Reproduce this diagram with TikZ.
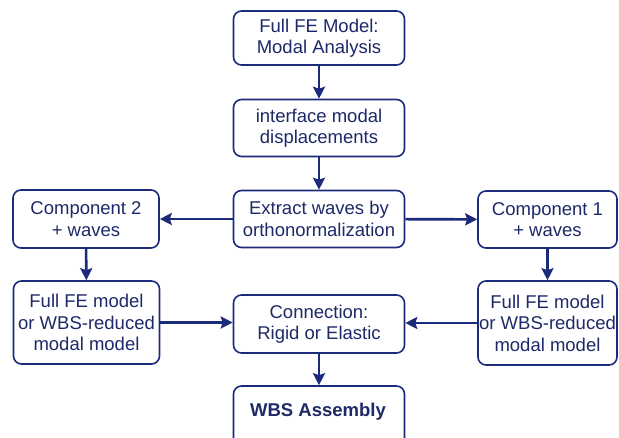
\documentclass[tikz,border=0pt]{standalone}
\usepackage{fontspec}
\setmainfont{Liberation Sans}
\usetikzlibrary{arrows.meta}
\definecolor{navy}{HTML}{1C2A7C}
\definecolor{navytext}{HTML}{1E2968}
\tikzset{
  stepbox/.style={draw=navy, line width=1.6pt, rounded corners=8pt, fill=white,
    align=center, text=navytext, font=\fontsize{18.5}{21.5}\selectfont,
    inner sep=0pt, minimum width=#1},
  flow/.style={draw=navy, line width=2.6pt,
    -{Stealth[length=12pt, width=12pt, inset=2pt]}}
}
\begin{document}
\begin{tikzpicture}[x=1pt, y=-1pt]
  \useasboundingbox (0,0) rectangle (619,437);
  \clip (0,0) rectangle (619,437);

  % central column
  \node[stepbox=171pt, minimum height=54pt] (fe) at (319,38) {Full FE Model:\\Modal Analysis};
  \node[stepbox=171pt, minimum height=57pt] (disp) at (319,128) {interface modal\\displacements};
  \node[stepbox=171pt, minimum height=57pt] (ext) at (319,219) {Extract waves by\\orthonormalization};
  \node[stepbox=171pt, minimum height=58pt] (conn) at (319,324) {Connection:\\Rigid or Elastic};
  \node[stepbox=171pt, minimum height=80pt] (wbs) at (319,426) {};
  \node[text=navytext, font=\fontsize{18.5}{21}\selectfont\bfseries] (wbslabel) at (318,412) {WBS Assembly};

  % left branch
  \node[stepbox=146pt, minimum height=58pt] (c2) at (86,219) {Component 2\\+ waves};
  \node[stepbox=146pt, minimum height=83pt] (m2) at (86.5,322.5) {Full FE model\\or WBS-reduced\\modal model};

  % right branch
  \node[stepbox=139pt, minimum height=57pt] (c1) at (547.5,219.5) {Component 1\\+ waves};
  \node[stepbox=139pt, minimum height=84pt] (m1) at (547.5,323) {Full FE model\\or WBS-reduced\\modal model};

  % connectors
  \draw[flow] (fe) -- (disp);
  \draw[flow] (disp) -- (ext);
  \draw[flow] (ext) -- (c2);
  \draw[flow] (ext) -- (c1);
  \draw[flow] (c2) -- (m2);
  \draw[flow] (c1) -- (m1);
  \draw[flow] (m2.east) -- (m2.east -| conn.west);
  \draw[flow] (m1.west) -- (m1.west -| conn.east);
  \draw[flow] (conn) -- (wbs);
\end{tikzpicture}
\end{document}
